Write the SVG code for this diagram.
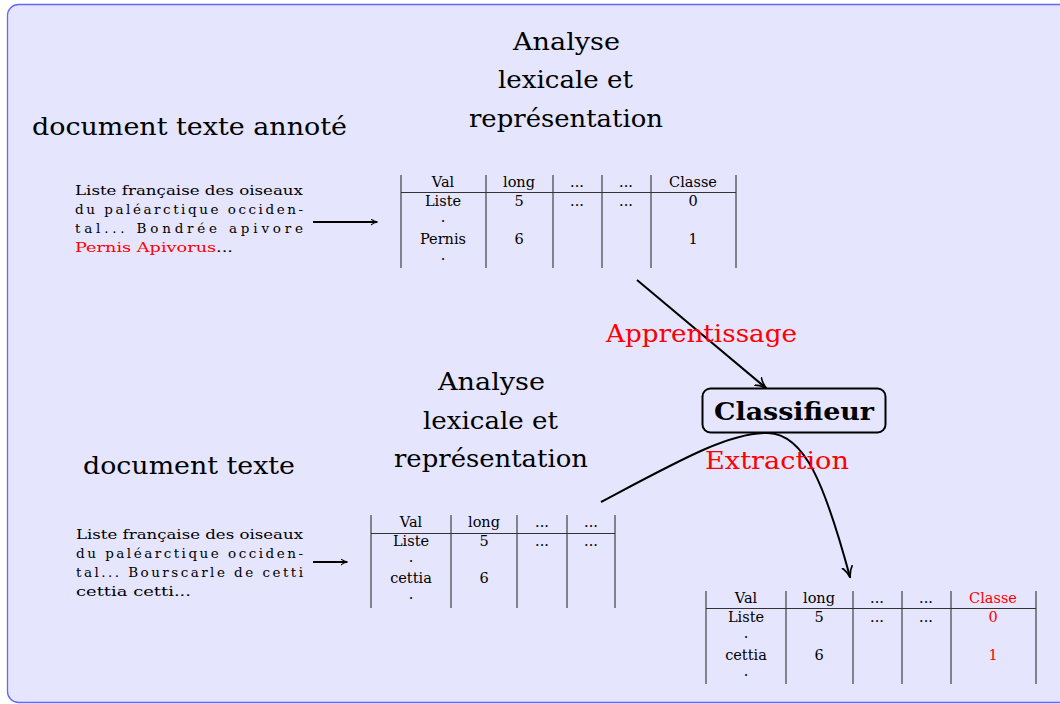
<svg xmlns="http://www.w3.org/2000/svg" width="1060" height="704" viewBox="0 0 1060 704">
<defs>
<style>
.t{font-family:"DejaVu Serif","Liberation Serif",serif;fill:#000}
.big{font-size:25px}
.sm{font-size:13.5px}
.tb{font-size:14.5px}
.red{fill:#ff0000}
.tc{text-anchor:middle}
.ln{stroke:#333;stroke-width:1.1;fill:none}
.conn{stroke:#000;stroke-width:2;fill:none}
</style>
<marker id="ah" viewBox="0 0 10 10" refX="9" refY="5" markerWidth="7" markerHeight="7" orient="auto" markerUnits="userSpaceOnUse">
<path d="M0,0.5 Q4,4 10,5 Q4,6 0,9.5" fill="none" stroke="#000" stroke-width="1.6"/>
</marker>
<marker id="ah2" viewBox="0 0 10 10" refX="9" refY="5" markerWidth="12" markerHeight="12" orient="auto" markerUnits="userSpaceOnUse">
<path d="M0,0.5 Q4,4 10,5 Q4,6 0,9.5" fill="none" stroke="#000" stroke-width="1.4"/>
</marker>
</defs>
<rect x="7.5" y="4.5" width="1070" height="698" rx="11" fill="#e5e5fd" stroke="#6666ff" stroke-width="1.3"/>

<g id="title-top">
<text class="t big" x="32" y="135" textLength="315" lengthAdjust="spacingAndGlyphs">document texte annoté</text>
</g>
<g id="analyse-top">
<text class="t big" x="513" y="50" textLength="107" lengthAdjust="spacingAndGlyphs">Analyse</text>
<text class="t big" x="498" y="88" textLength="135" lengthAdjust="spacingAndGlyphs">lexicale et</text>
<text class="t big" x="469" y="127" textLength="194" lengthAdjust="spacingAndGlyphs">représentation</text>
</g>
<g id="doc-top">
<text class="t sm" x="75" y="195" textLength="228" lengthAdjust="spacingAndGlyphs">Liste française des oiseaux</text>
<text class="t sm" x="75" y="214" textLength="228" lengthAdjust="spacing">du paléarctique occiden-</text>
<text class="t sm" x="75" y="233" textLength="228" lengthAdjust="spacing">tal... Bondrée apivore</text>
<text class="t sm" x="75" y="252" textLength="158" lengthAdjust="spacingAndGlyphs"><tspan class="red">Pernis Apivorus</tspan>...</text>
</g>
<g id="table-top">
<path class="ln" d="M401,175V268M486,175V268M553,175V268M602,175V268M651,175V268M736,175V268M401,192.5H736"/>
<text class="t tb tc" x="443" y="187">Val</text>
<text class="t tb tc" x="519" y="187">long</text>
<text class="t tb tc" x="577" y="187">...</text>
<text class="t tb tc" x="626" y="187">...</text>
<text class="t tb tc" x="693" y="187">Classe</text>
<text class="t tb tc" x="443" y="206">Liste</text>
<text class="t tb tc" x="519" y="206">5</text>
<text class="t tb tc" x="577" y="206">...</text>
<text class="t tb tc" x="626" y="206">...</text>
<text class="t tb tc" x="693" y="206">0</text>
<text class="t tb tc" x="443" y="222">.</text>
<text class="t tb tc" x="443" y="244">Pernis</text>
<text class="t tb tc" x="519" y="244">6</text>
<text class="t tb tc" x="693" y="244">1</text>
<text class="t tb tc" x="443" y="260">.</text>
</g>

<g id="title-bottom">
<text class="t big" x="83" y="474" textLength="212" lengthAdjust="spacingAndGlyphs">document texte</text>
</g>
<g id="analyse-bottom">
<text class="t big" x="438" y="390" textLength="107" lengthAdjust="spacingAndGlyphs">Analyse</text>
<text class="t big" x="423" y="429" textLength="135" lengthAdjust="spacingAndGlyphs">lexicale et</text>
<text class="t big" x="394" y="467" textLength="194" lengthAdjust="spacingAndGlyphs">représentation</text>
</g>
<g id="doc-bottom">
<text class="t sm" x="76" y="539" textLength="227" lengthAdjust="spacingAndGlyphs">Liste française des oiseaux</text>
<text class="t sm" x="76" y="558" textLength="227" lengthAdjust="spacing">du paléarctique occiden-</text>
<text class="t sm" x="76" y="577" textLength="227" lengthAdjust="spacing">tal... Bourscarle de cetti</text>
<text class="t sm" x="76" y="596" textLength="115" lengthAdjust="spacingAndGlyphs">cettia cetti...</text>
</g>
<g id="table-bottom">
<path class="ln" d="M371,515V608M451,515V608M517,515V608M567,515V608M615,515V608M371,533.5H615"/>
<text class="t tb tc" x="411" y="527">Val</text>
<text class="t tb tc" x="484" y="527">long</text>
<text class="t tb tc" x="542" y="527">...</text>
<text class="t tb tc" x="591" y="527">...</text>
<text class="t tb tc" x="411" y="546">Liste</text>
<text class="t tb tc" x="484" y="546">5</text>
<text class="t tb tc" x="542" y="546">...</text>
<text class="t tb tc" x="591" y="546">...</text>
<text class="t tb tc" x="411" y="562">.</text>
<text class="t tb tc" x="411" y="583">cettia</text>
<text class="t tb tc" x="484" y="583">6</text>
<text class="t tb tc" x="411" y="599">.</text>
</g>

<g id="table-result">
<path class="ln" d="M706,591V684M786,591V684M853,591V684M902,591V684M951,591V684M1036,591V684M706,608.5H1036"/>
<text class="t tb tc" x="746" y="603">Val</text>
<text class="t tb tc" x="819" y="603">long</text>
<text class="t tb tc" x="877" y="603">...</text>
<text class="t tb tc" x="926" y="603">...</text>
<text class="t tb tc red" x="993" y="603">Classe</text>
<text class="t tb tc" x="746" y="622">Liste</text>
<text class="t tb tc" x="819" y="622">5</text>
<text class="t tb tc" x="877" y="622">...</text>
<text class="t tb tc" x="926" y="622">...</text>
<text class="t tb tc red" x="993" y="622">0</text>
<text class="t tb tc" x="746" y="638">.</text>
<text class="t tb tc" x="746" y="660">cettia</text>
<text class="t tb tc" x="819" y="660">6</text>
<text class="t tb tc red" x="993" y="660">1</text>
<text class="t tb tc" x="746" y="676">.</text>
</g>

<g id="classifieur">
<rect x="702.5" y="388.5" width="183" height="44" rx="8" fill="none" stroke="#000" stroke-width="2"/>
<text class="t" x="714" y="420" font-size="24" font-weight="bold" textLength="160" lengthAdjust="spacingAndGlyphs">Classifieur</text>
</g>

<g id="connectors">
<line class="conn" x1="313" y1="222" x2="377" y2="222" marker-end="url(#ah)"/>
<line class="conn" x1="313" y1="562" x2="347" y2="562" marker-end="url(#ah)"/>
<line class="conn" x1="637" y1="280" x2="766" y2="388" marker-end="url(#ah2)"/>
<path class="conn" d="M601,502 C680,460 730,432 768,433 C805,434 825,485 850,577" marker-end="url(#ah2)"/>
</g>

<g id="labels">
<text class="t big red" x="606" y="342" textLength="191" lengthAdjust="spacingAndGlyphs">Apprentissage</text>
<text class="t big red" x="705" y="469" textLength="144" lengthAdjust="spacingAndGlyphs">Extraction</text>
</g>
</svg>
